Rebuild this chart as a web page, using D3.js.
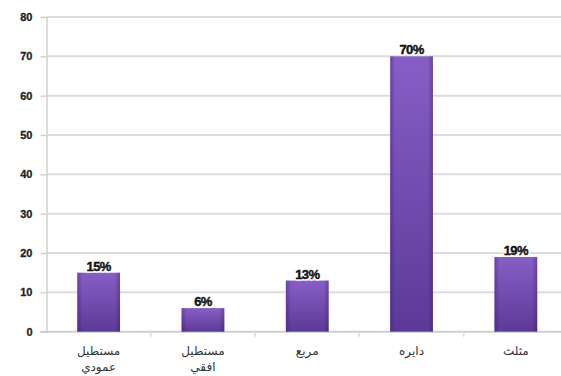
<!DOCTYPE html>
<html>
<head>
<meta charset="utf-8">
<script src="https://cdn.jsdelivr.net/npm/d3@7"></script>
<style>
  html, body { margin: 0; padding: 0; background: #fff; }
  svg { display: block; }
  .num { font-family: "Liberation Sans", Arial, sans-serif; font-weight: 700; }
</style>
</head>
<body>
<svg id="chart" width="561" height="376"></svg>
<script>
// Share of answers by shape
const categories = [["مستطيل", "عمودي"], ["مستطيل", "افقي"], ["مربع"], ["دايره"], ["مثلث"]];
const values = [15, 6, 13, 70, 19];
const yTicks = [0, 10, 20, 30, 40, 50, 60, 70, 80];

const svg = d3.select("#chart");
const plotLeft = 46.5, step = 104.3, plotTop = 17, plotBottom = 331.7;

const x = d3.scaleBand()
  .domain(d3.range(categories.length))
  .range([plotLeft, plotLeft + step * categories.length])
  .paddingInner(0.59).paddingOuter(0.295);

const y = d3.scaleLinear().domain([0, 80]).range([plotBottom, plotTop]);

const defs = svg.append("defs");
const gv = defs.append("linearGradient").attr("id", "barV")
  .attr("x1", 0).attr("y1", 0).attr("x2", 0).attr("y2", 1);
gv.append("stop").attr("offset", "0%").attr("stop-color", "#8c62cc");
gv.append("stop").attr("offset", "100%").attr("stop-color", "#5f3c9c");
const gh = defs.append("linearGradient").attr("id", "barH")
  .attr("x1", 0).attr("y1", 0).attr("x2", 1).attr("y2", 0);
gh.append("stop").attr("offset", "0%").attr("stop-color", "#2a1050").attr("stop-opacity", 0.35);
gh.append("stop").attr("offset", "12%").attr("stop-color", "#2a1050").attr("stop-opacity", 0.05);
gh.append("stop").attr("offset", "88%").attr("stop-color", "#2a1050").attr("stop-opacity", 0.05);
gh.append("stop").attr("offset", "100%").attr("stop-color", "#2a1050").attr("stop-opacity", 0.35);

// Horizontal gridlines
svg.append("g").selectAll("line").data(yTicks.slice(1)).join("line")
  .attr("x1", plotLeft).attr("x2", 561)
  .attr("y1", d => y(d)).attr("y2", d => y(d))
  .attr("stroke", "#dcdcdc").attr("stroke-width", 2);

// Y axis
const yAxis = svg.append("g").attr("transform", `translate(${plotLeft},0)`)
  .call(d3.axisLeft(y).tickValues(yTicks).tickSize(6).tickPadding(8));
yAxis.attr("font-family", null).attr("font-size", null);
yAxis.select(".domain").attr("stroke", "#d0d0d0").attr("stroke-width", 1.5);
yAxis.selectAll(".tick line").attr("stroke", "#d0d0d0").attr("stroke-width", 1.5);
yAxis.selectAll(".tick text")
  .attr("class", "num")
  .attr("fill", "#222").attr("font-size", 11)
  .attr("stroke", "#222").attr("stroke-width", 0.3);

// X axis baseline with tick marks on category boundaries
const xb = svg.append("g");
xb.append("line").attr("x1", plotLeft - 6).attr("x2", 561)
  .attr("y1", plotBottom).attr("y2", plotBottom)
  .attr("stroke", "#cfcfcf").attr("stroke-width", 2);
xb.selectAll("line.sep").data(d3.range(1, categories.length + 1)).join("line")
  .attr("class", "sep")
  .attr("x1", i => plotLeft + i * x.step())
  .attr("x2", i => plotLeft + i * x.step())
  .attr("y1", plotBottom).attr("y2", plotBottom + 5)
  .attr("stroke", "#d8d8d8").attr("stroke-width", 1.5);

// Bars
const bars = svg.append("g");
bars.selectAll("rect.b").data(values).join("rect").attr("class", "b")
  .attr("x", (d, i) => x(i)).attr("width", x.bandwidth())
  .attr("y", d => y(d)).attr("height", d => y(0) - y(d))
  .attr("fill", "url(#barV)");
bars.selectAll("rect.s").data(values).join("rect").attr("class", "s")
  .attr("x", (d, i) => x(i)).attr("width", x.bandwidth())
  .attr("y", d => y(d)).attr("height", d => y(0) - y(d))
  .attr("fill", "url(#barH)");

// Value labels: white outline underneath, dark bold text on top
const vl = svg.append("g").selectAll("g").data(values).join("g")
  .attr("transform", (d, i) => `translate(${x(i) + x.bandwidth() / 2},${y(d) - 2})`);
vl.append("text")
  .attr("class", "num").attr("text-anchor", "middle")
  .attr("font-size", 13).attr("letter-spacing", -0.6)
  .attr("fill", "#fff").attr("stroke", "#fff").attr("stroke-width", 3)
  .attr("stroke-linejoin", "round")
  .text(d => d + "%");
vl.append("text")
  .attr("class", "num").attr("text-anchor", "middle")
  .attr("font-size", 13).attr("letter-spacing", -0.6)
  .attr("fill", "#111").attr("stroke", "#111").attr("stroke-width", 0.4)
  .text(d => d + "%");

// Category labels
const cl = svg.append("g").selectAll("text").data(categories).join("text")
  .attr("x", (d, i) => x(i) + x.bandwidth() / 2)
  .attr("y", 355)
  .attr("text-anchor", "middle")
  .attr("direction", "rtl")
  .attr("font-family", "DejaVu Sans, sans-serif")
  .attr("font-size", 12).attr("fill", "#333");
cl.selectAll("tspan").data(d => d).join("tspan")
  .attr("x", function () { return d3.select(this.parentNode).attr("x"); })
  .attr("dy", (d, j) => j === 0 ? 0 : 16)
  .text(d => d);
</script>
</body>
</html>
